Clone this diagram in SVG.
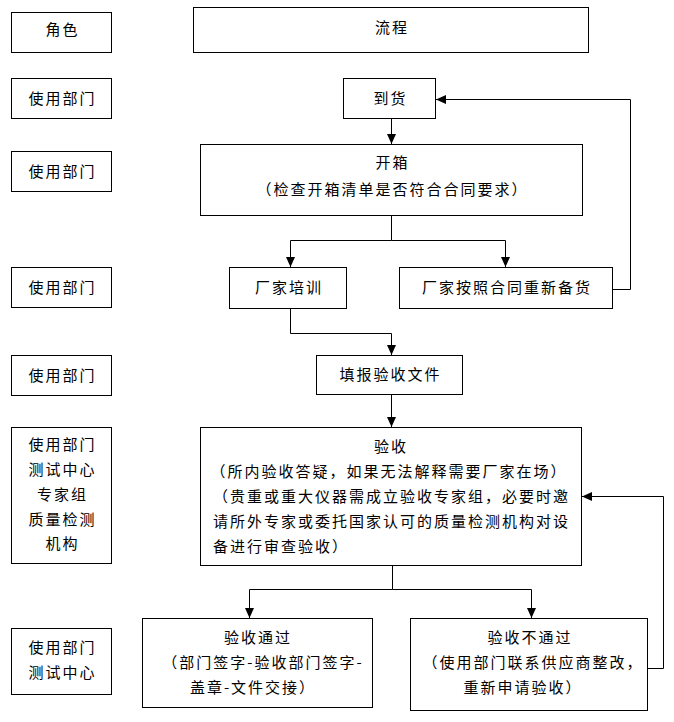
<svg xmlns="http://www.w3.org/2000/svg" width="674" height="722" viewBox="0 0 674 722">
<defs>
<style>
rect{fill:#fff;stroke:#000;stroke-width:1}
text{font-family:"Noto Sans CJK SC","Noto Sans",sans-serif;font-size:15px;letter-spacing:2px;fill:#000}
.c{text-anchor:middle}
.conn path{fill:none;stroke:#000;stroke-width:1}
</style>
<marker id="ah" markerUnits="userSpaceOnUse" markerWidth="10" markerHeight="9" refX="10" refY="4.5" orient="auto">
<path d="M0,0 L10,4.5 L0,9 z" fill="#000"/>
</marker>
</defs>
<rect x="0" y="0" width="674" height="722" style="stroke:none"/>

<g id="role-header"><rect x="11.5" y="12.5" width="100" height="40"/><text class="c" x="62.5" y="35">角色</text></g>
<g id="role-1"><rect x="11.5" y="78.5" width="100" height="40"/><text class="c" x="62.5" y="104">使用部门</text></g>
<g id="role-2"><rect x="11.5" y="151.5" width="100" height="40"/><text class="c" x="62.5" y="177">使用部门</text></g>
<g id="role-3"><rect x="11.5" y="267.5" width="100" height="40"/><text class="c" x="62.5" y="293">使用部门</text></g>
<g id="role-4"><rect x="11.5" y="355.5" width="100" height="40"/><text class="c" x="62.5" y="381">使用部门</text></g>
<g id="role-5"><rect x="11.5" y="427.5" width="100" height="136"/>
<text class="c" x="62.5" y="450">使用部门</text>
<text class="c" x="62.5" y="475">测试中心</text>
<text class="c" x="62.5" y="500">专家组</text>
<text class="c" x="62.5" y="525">质量检测</text>
<text class="c" x="62.5" y="549">机构</text></g>
<g id="role-6"><rect x="11.5" y="628.5" width="100" height="66"/>
<text class="c" x="62.5" y="653">使用部门</text>
<text class="c" x="62.5" y="678">测试中心</text></g>

<g id="header"><rect x="193.5" y="7.5" width="395" height="45"/><text class="c" x="392" y="33">流程</text></g>
<g id="daohuo"><rect x="343.5" y="78.5" width="92" height="40"/><text class="c" x="390.5" y="104">到货</text></g>
<g id="kaixiang"><rect x="200.5" y="144.5" width="382" height="71"/>
<text class="c" x="392.5" y="168">开箱</text>
<text class="c" x="392.5" y="195">（检查开箱清单是否符合合同要求）</text></g>
<g id="peixun"><rect x="229.5" y="267.5" width="117" height="41"/><text class="c" x="289" y="293">厂家培训</text></g>
<g id="beihuo"><rect x="399.5" y="267.5" width="213" height="41"/><text class="c" x="507" y="293">厂家按照合同重新备货</text></g>
<g id="tianbao"><rect x="316.5" y="355.5" width="146" height="39"/><text class="c" x="390.5" y="380">填报验收文件</text></g>
<g id="yanshou"><rect x="200.5" y="427.5" width="381" height="138"/>
<text class="c" x="391" y="452">验收</text>
<text class="c" x="389" y="477">（所内验收答疑，如果无法解释需要厂家在场）</text>
<text x="213" y="502">（贵重或重大仪器需成立验收专家组，必要时邀</text>
<text x="213" y="527">请所外专家或委托国家认可的质量检测机构对设</text>
<text x="213" y="552">备进行审查验收）</text></g>
<g id="tongguo"><rect x="142.5" y="618.5" width="230" height="89"/>
<text class="c" x="258" y="643">验收通过</text>
<text class="c" x="263" y="668">（部门签字-验收部门签字-</text>
<text class="c" x="253" y="693">盖章-文件交接）</text></g>
<g id="butongguo"><rect x="410.5" y="618.5" width="237" height="92"/>
<text class="c" x="530" y="643">验收不通过</text>
<text class="c" x="533" y="668">（使用部门联系供应商整改，</text>
<text class="c" x="523" y="693">重新申请验收）</text></g>

<g id="connectors" class="conn">
<path d="M391.5,118.5 V144" marker-end="url(#ah)"/>
<path d="M391.5,215.5 V240.5"/>
<path d="M391.5,240.5 H290.5 V267" marker-end="url(#ah)"/>
<path d="M391.5,240.5 H505.5 V267" marker-end="url(#ah)"/>
<path d="M612.5,289.5 H630.5 V99.5 H436" marker-end="url(#ah)"/>
<path d="M290.5,308.5 V333.5 H391.5 V355" marker-end="url(#ah)"/>
<path d="M391.5,394.5 V427" marker-end="url(#ah)"/>
<path d="M392.5,565.5 V589.5"/>
<path d="M392.5,589.5 H249.5 V618" marker-end="url(#ah)"/>
<path d="M392.5,589.5 H531.5 V618" marker-end="url(#ah)"/>
<path d="M647.5,668.5 H663.5 V496.5 H582" marker-end="url(#ah)"/>
</g>
</svg>
